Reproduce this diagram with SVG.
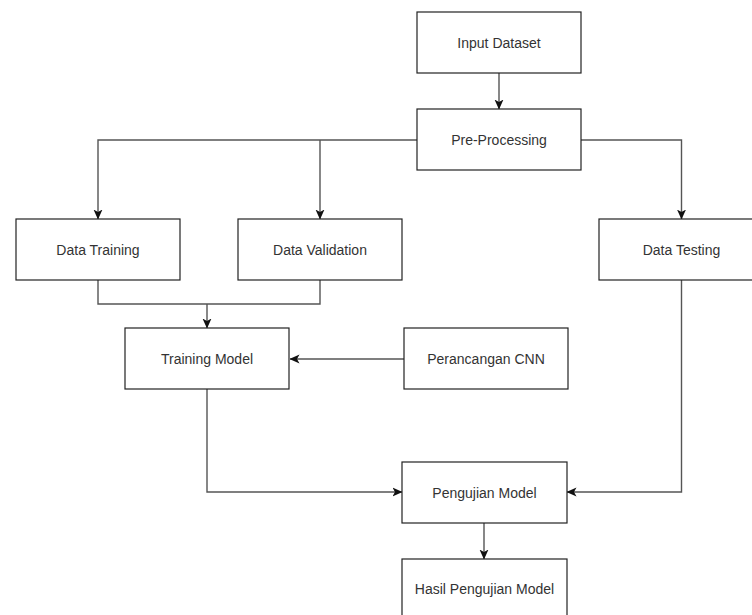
<svg xmlns="http://www.w3.org/2000/svg" width="752" height="615" viewBox="0 0 752 615">
<defs>
<style>
.box{fill:#fff;stroke:#222;stroke-width:1.2}
.lbl{font-family:"Liberation Sans",Arial,sans-serif;font-size:14px;fill:#333;text-anchor:middle;dominant-baseline:central}
.conn{fill:none;stroke:#555;stroke-width:1.4}
</style>
<marker id="arr" viewBox="0 0 10 10" refX="9.5" refY="5" markerWidth="10" markerHeight="10" markerUnits="userSpaceOnUse" orient="auto">
<path d="M0,0.5 L10,5 L0,9.5 L2.5,5 Z" fill="#111"/>
</marker>
</defs>
<rect width="752" height="615" fill="#fff"/>
<g id="connectors">
<path class="conn" d="M499,73 V109" marker-end="url(#arr)"/>
<path class="conn" d="M417,140 H98 V219" marker-end="url(#arr)"/>
<path class="conn" d="M320,140 V219" marker-end="url(#arr)"/>
<path class="conn" d="M581,140 H681.5 V219" marker-end="url(#arr)"/>
<path class="conn" d="M98,280 V304 H320 V280"/>
<path class="conn" d="M207,304 V328" marker-end="url(#arr)"/>
<path class="conn" d="M404,359 H290" marker-end="url(#arr)"/>
<path class="conn" d="M207,389 V492 H402" marker-end="url(#arr)"/>
<path class="conn" d="M681.5,280 V492 H567" marker-end="url(#arr)"/>
<path class="conn" d="M484,523 V559" marker-end="url(#arr)"/>
</g>
<g id="input-dataset"><rect class="box" x="417" y="12" width="164" height="61"/><text class="lbl" x="499" y="42.5">Input Dataset</text></g>
<g id="pre-processing"><rect class="box" x="417" y="109" width="164" height="61"/><text class="lbl" x="499" y="139.5">Pre-Processing</text></g>
<g id="data-training"><rect class="box" x="16" y="219" width="164" height="61"/><text class="lbl" x="98" y="249.5">Data Training</text></g>
<g id="data-validation"><rect class="box" x="238" y="219" width="164" height="61"/><text class="lbl" x="320" y="249.5">Data Validation</text></g>
<g id="data-testing"><rect class="box" x="599" y="219" width="166" height="61"/><text class="lbl" x="681.5" y="249.5">Data Testing</text></g>
<g id="training-model"><rect class="box" x="125" y="328" width="164" height="61"/><text class="lbl" x="207" y="358.5">Training Model</text></g>
<g id="perancangan-cnn"><rect class="box" x="404" y="328" width="164" height="61"/><text class="lbl" x="486" y="358.5">Perancangan CNN</text></g>
<g id="pengujian-model"><rect class="box" x="402" y="462" width="165" height="61"/><text class="lbl" x="484.5" y="492.5">Pengujian Model</text></g>
<g id="hasil-pengujian-model"><rect class="box" x="402" y="559" width="165" height="61"/><text class="lbl" x="484.5" y="589">Hasil Pengujian Model</text></g>
</svg>
